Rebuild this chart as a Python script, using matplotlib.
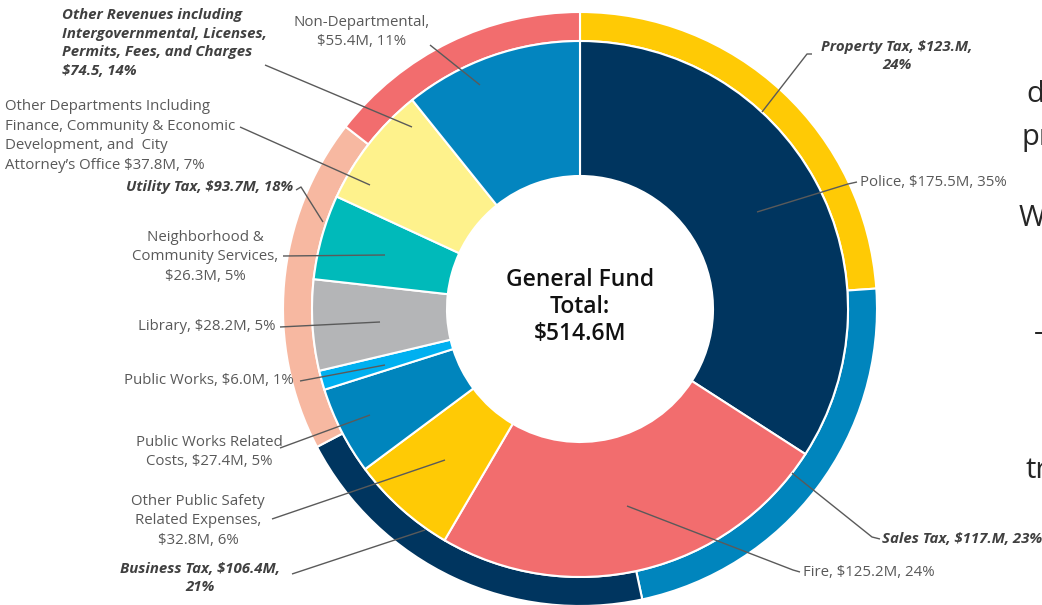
import matplotlib
matplotlib.use("Agg")
import matplotlib.pyplot as plt

plt.rcParams['font.family'] = ['Open Sans', 'DejaVu Sans']

# ---- data ----
exp_names = ["Police", "Fire", "Other Public Safety Related Expenses",
             "Public Works Related Costs", "Public Works", "Library",
             "Neighborhood & Community Services", "Other Departments",
             "Non-Departmental"]
exp_values = [175.5, 125.2, 32.8, 27.4, 6.0, 28.2, 26.3, 37.8, 55.4]
exp_colors = ["#00355F", "#F26D6E", "#FFCA05", "#0085BD", "#00B0F0",
              "#B4B5B7", "#00BABA", "#FEF28C", "#0385BF"]

rev_names = ["Property Tax", "Sales Tax", "Business Tax", "Utility Tax",
             "Other Revenues"]
rev_values = [123.0, 117.0, 106.4, 93.7, 74.5]
rev_colors = ["#FFCA05", "#0085BD", "#00355F", "#F7B8A1", "#F26D6E"]

exp_labels = ["Police, $175.5M, 35%",
              "Fire, $125.2M, 24%",
              "Other Public Safety\nRelated Expenses,\n$32.8M, 6%",
              "Public Works Related\nCosts, $27.4M, 5%",
              "Public Works, $6.0M, 1%",
              "Library, $28.2M, 5%",
              "Neighborhood &\nCommunity Services,\n$26.3M, 5%",
              "Other Departments Including\nFinance, Community & Economic\nDevelopment, and  City\nAttorney\u2019s Office $37.8M, 7%",
              "Non-Departmental,\n$55.4M, 11%"]
rev_labels = ["Property Tax, $123.M,\n24%",
              "Sales Tax, $117.M, 23%",
              "Business Tax, $106.4M,\n21%",
              "Utility Tax, $93.7M, 18%",
              "Other Revenues including\nIntergovernmental, Licenses,\nPermits, Fees, and Charges\n$74.5, 14%"]
center_text = "General Fund\nTotal:\n$514.6M"

W, H = 1042, 605
fig = plt.figure(figsize=(W / 100, H / 100), dpi=100)
ax = fig.add_axes([0, 0, 1, 1])
ax.set_xlim(0, W)
ax.set_ylim(0, H)
ax.set_aspect('equal')
ax.axis('off')

def Y(p):
    return H - p

cx, cy = 580, Y(309)

ax.pie(rev_values, colors=rev_colors, startangle=90, counterclock=False,
       radius=297, center=(cx, cy), frame=True,
       wedgeprops=dict(width=29, edgecolor='white', linewidth=1.5))
ax.pie(exp_values, colors=exp_colors, startangle=90, counterclock=False,
       radius=268, center=(cx, cy), frame=True,
       wedgeprops=dict(width=135, edgecolor='white', linewidth=1.5))
ax.set_xlim(0, W)
ax.set_ylim(0, H)
ax.axis('off')

ax.text(cx, Y(307), center_text, ha='center', va='center', fontsize=16.5,
        fontweight='semibold', color='#111111', linespacing=1.18)

lc = '#5a5a5a'
norm = dict(fontsize=10.8, color='#595959', linespacing=1.45)
bold = dict(fontsize=10.8, color='#404040', fontweight='bold', style='italic',
            linespacing=1.42)

# label placements: (text, x, y, ha, style, leader points)
placements = [
    (exp_labels[0], 860, 182, 'left', norm, [(857, 182), (848, 184), (757, 212)]),
    (exp_labels[1], 803, 572, 'left', norm, [(800, 572), (793, 570), (627, 506)]),
    (exp_labels[2], 198, 521, 'center', norm, [(272, 519), (445, 460)]),
    (exp_labels[3], 209, 452, 'center', norm, [(280, 448), (370, 415)]),
    (exp_labels[4], 294, 381, 'right', norm, [(300, 381), (385, 365)]),
    (exp_labels[5], 276, 327, 'right', norm, [(280, 327), (380, 322)]),
    (exp_labels[6], 205, 257, 'center', norm, [(283, 256), (385, 255)]),
    (exp_labels[7], 5, 136, 'left', norm, [(240, 127), (370, 185)]),
    (exp_labels[8], 362, 32, 'center', norm, [(430, 45), (480, 85)]),
    (rev_labels[0], 897, 56, 'center', bold, [(812, 54), (807, 54), (762, 112)]),
    (rev_labels[1], 882, 539, 'left', bold, [(880, 539), (872, 537), (792, 473)]),
    (rev_labels[2], 200, 578, 'center', bold, [(292, 574), (425, 530)]),
    (rev_labels[3], 293, 187, 'right', bold, [(296, 190), (301, 187), (323, 222)]),
    (rev_labels[4], 62, 43, 'left', bold, [(265, 65), (412, 127)]),
]
for txt, x, y, ha, st, pts in placements:
    ax.text(x, Y(y), txt, ha=ha, va='center', multialignment=ha, **st)
    ax.plot([p[0] for p in pts], [Y(p[1]) for p in pts], color=lc, lw=1,
            solid_capstyle='butt')

# slide text that is cut off at the right edge in the reference
side = dict(fontsize=21, color='#262626', ha='left', va='center')
ax.text(1026, Y(95), "d", **side)
ax.text(1021, Y(137), "pr", **side)
ax.text(1019, Y(218), "W", **side)
ax.text(1034, Y(333), "-", **side)
ax.text(1025, Y(470), "tr", **side)

fig.savefig("out.png", dpi=100)
